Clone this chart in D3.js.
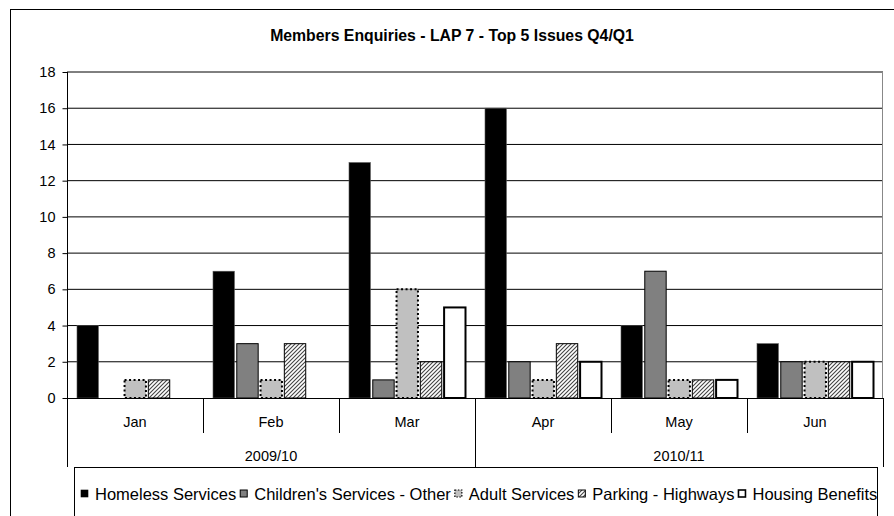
<!DOCTYPE html>
<html>
<head>
<meta charset="utf-8">
<script src="https://cdn.jsdelivr.net/npm/d3@7"></script>
<style>
  html, body { margin: 0; padding: 0; background: #fff; }
  svg { display: block; font-family: "Liberation Sans", Arial, sans-serif; }
</style>
</head>
<body>
<svg id="chart" width="894" height="516"></svg>
<script>
// Monthly enquiry counts for the five most frequent issues
const months = ["Jan", "Feb", "Mar", "Apr", "May", "Jun"];
const years = [
  { label: "2009/10", from: "Jan", to: "Mar" },
  { label: "2010/11", from: "Apr", to: "Jun" }
];
const seriesNames = [
  "Homeless Services",
  "Children's Services - Other",
  "Adult Services",
  "Parking - Highways",
  "Housing Benefits"
];
const homeless   = [4, 7, 13, 16, 4, 3];
const children   = [0, 3, 1, 2, 7, 2];
const adult      = [1, 1, 6, 1, 1, 2];
const parking    = [1, 3, 2, 3, 1, 2];
const housing    = [0, 0, 5, 2, 1, 2];
const yTicks = [0, 2, 4, 6, 8, 10, 12, 14, 16, 18];
const title = "Members Enquiries - LAP 7 - Top 5 Issues Q4/Q1";

const seriesValues = [homeless, children, adult, parking, housing];

const svg = d3.select("#chart");
const W = 894, H = 516;

// Hatch pattern for the parking series
const defs = svg.append("defs");
const pat = defs.append("pattern")
  .attr("id", "hatch")
  .attr("patternUnits", "userSpaceOnUse")
  .attr("width", 4).attr("height", 4);
pat.append("rect").attr("width", 4).attr("height", 4).attr("fill", "#fff");
pat.append("path")
  .attr("d", "M-1,1 l2,-2 M0,4 l4,-4 M3,5 l2,-2")
  .attr("stroke", "#444").attr("stroke-width", 1.1);

const styles = [
  { fill: "#000", stroke: "#555", sw: 0.6, dash: null },
  { fill: "#808080", stroke: "#000", sw: 1, dash: null },
  { fill: "#c0c0c0", stroke: "#000", sw: 2, dash: "2,2.5" },
  { fill: "url(#hatch)", stroke: "#000", sw: 1, dash: null },
  { fill: "#fff", stroke: "#000", sw: 2, dash: null }
];

// Outer frame
svg.append("rect")
  .attr("x", 10.5).attr("y", 9.5)
  .attr("width", W).attr("height", H)
  .attr("fill", "none").attr("stroke", "#000").attr("stroke-width", 1);

// Title
svg.append("text")
  .attr("x", 452).attr("y", 41)
  .attr("text-anchor", "middle")
  .attr("font-weight", "bold")
  .attr("font-size", 15.8)
  .text(title);

const plot = { left: 67, right: 883, top: 72, bottom: 398 };

const x = d3.scaleBand().domain(months).range([plot.left, plot.right]).padding(0);
const inner = d3.scaleBand().domain(d3.range(seriesNames.length))
  .range([10, x.bandwidth() - 9.5]).paddingInner(0.1).paddingOuter(0);
const y = d3.scaleLinear().domain([0, 18]).range([plot.bottom, plot.top]);

// Horizontal gridlines
svg.append("g").selectAll("line").data(yTicks.filter(d => d > 0)).join("line")
  .attr("x1", plot.left).attr("x2", plot.right)
  .attr("y1", d => y(d)).attr("y2", d => y(d))
  .attr("stroke", "#000").attr("stroke-width", 1);

// Right edge of plot area
svg.append("line")
  .attr("x1", plot.right - 0.5).attr("x2", plot.right - 0.5)
  .attr("y1", plot.top).attr("y2", plot.bottom)
  .attr("stroke", "#888");

// Y axis
const yAxis = d3.axisLeft(y).tickValues(yTicks).tickSize(5).tickPadding(7);
const gy = svg.append("g").attr("transform", `translate(${plot.left + 0.5},0)`).call(yAxis);
gy.select(".domain").remove();
gy.selectAll(".tick line").attr("stroke", "#000");
gy.selectAll(".tick text")
  .attr("font-size", 14.5)
  .attr("font-family", "Liberation Sans, Arial, sans-serif")
  .attr("fill", "#000");
svg.append("line")
  .attr("x1", plot.left + 0.5).attr("x2", plot.left + 0.5)
  .attr("y1", plot.top).attr("y2", 467)
  .attr("stroke", "#000");

// Bars
const groups = svg.append("g").selectAll("g").data(months).join("g")
  .attr("transform", d => `translate(${x(d)},0)`);
groups.each(function (m, mi) {
  const g = d3.select(this);
  seriesValues.forEach((vals, si) => {
    const v = vals[mi];
    if (!v) return;
    const st = styles[si];
    g.append("rect")
      .attr("x", inner(si))
      .attr("width", inner.bandwidth())
      .attr("y", y(v))
      .attr("height", y(0) - y(v))
      .attr("fill", st.fill)
      .attr("stroke", st.stroke)
      .attr("stroke-width", st.sw)
      .attr("stroke-dasharray", st.dash);
  });
});

// Baseline
svg.append("line")
  .attr("x1", plot.left).attr("x2", plot.right)
  .attr("y1", y(0) + 0.5).attr("y2", y(0) + 0.5)
  .attr("stroke", "#000");

// Category axis: month row with dividers
svg.append("g").selectAll("line").data(months.slice(1)).join("line")
  .attr("x1", d => Math.round(x(d)) + 0.5).attr("x2", d => Math.round(x(d)) + 0.5)
  .attr("y1", plot.bottom).attr("y2", 433)
  .attr("stroke", "#000");
svg.append("g").selectAll("text").data(months).join("text")
  .attr("x", d => x(d) + x.bandwidth() / 2)
  .attr("y", 427)
  .attr("text-anchor", "middle")
  .attr("font-size", 14.5)
  .text(d => d);

// Year row with dividers
const yearEdges = [plot.left, x(years[1].from), plot.right];
svg.append("g").selectAll("line").data(yearEdges).join("line")
  .attr("x1", d => Math.round(d) + 0.5).attr("x2", d => Math.round(d) + 0.5)
  .attr("y1", plot.bottom).attr("y2", 467)
  .attr("stroke", "#000");
svg.append("g").selectAll("text").data(years).join("text")
  .attr("x", d => (x(d.from) + x(d.to) + x.bandwidth()) / 2)
  .attr("y", 461)
  .attr("text-anchor", "middle")
  .attr("font-size", 14.5)
  .text(d => d.label);

// Legend (text is allowed to run up to the box's right border)
const legend = svg.append("g");
legend.append("rect")
  .attr("x", 74.5).attr("y", 467.5)
  .attr("width", 803).attr("height", 60)
  .attr("fill", "#fff").attr("stroke", "#000");
let lx = 81;
seriesNames.forEach((name, si) => {
  const st = styles[si];
  legend.append("rect")
    .attr("x", lx).attr("y", 490)
    .attr("width", 7).attr("height", 7)
    .attr("fill", st.fill)
    .attr("stroke", si === 0 ? "#000" : st.stroke)
    .attr("stroke-width", si === 4 ? 1.6 : (si === 2 ? 1.2 : st.sw))
    .attr("stroke-dasharray", st.dash ? "1.5,1.5" : null);
  const t = legend.append("text")
    .attr("x", lx + 14).attr("y", 500)
    .attr("font-size", 16.5)
    .text(name);
  lx += 14 + t.node().getComputedTextLength() + 4;
});
</script>
</body>
</html>
